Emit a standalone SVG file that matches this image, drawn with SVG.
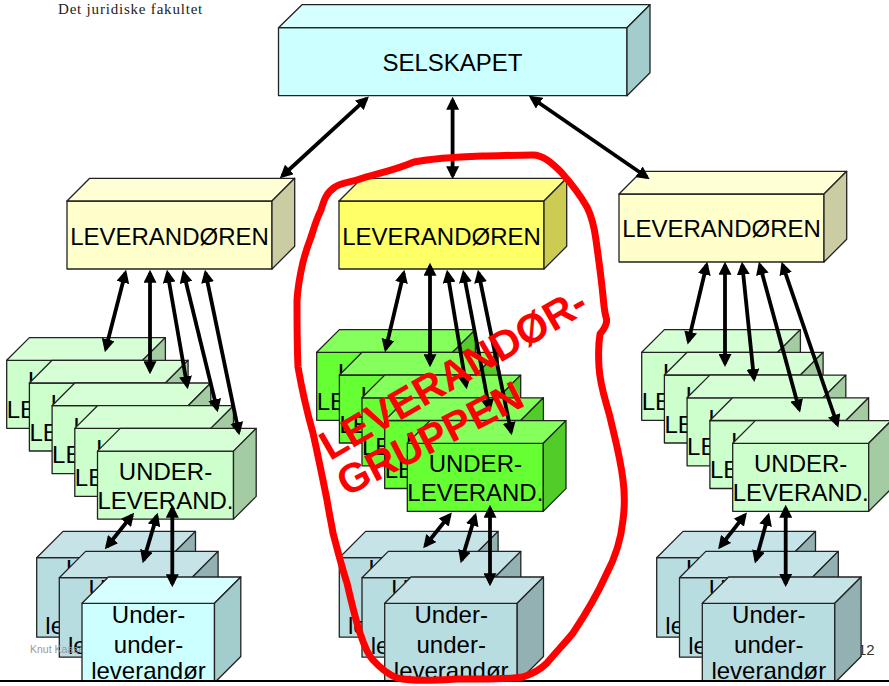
<svg xmlns="http://www.w3.org/2000/svg" width="889" height="686" viewBox="0 0 889 686">
<style>
text{font-family:"Liberation Sans",Arial,sans-serif;font-size:24px;fill:#000;text-anchor:middle}
.f{fill:var(--f)}.t{fill:var(--t)}.s{fill:var(--s)}
.f,.t,.s{stroke:var(--k,#222);stroke-width:1.3;stroke-linejoin:round}
.cy{--f:#ccffff;--t:#d6ffff;--s:#a3cccc}
.ly{--f:#ffffcc;--t:#ffffd6;--s:#cccca3}
.my{--f:#ffff66;--t:#ffff85;--s:#cccc52}
.lg{--f:#ccffcc;--t:#d6ffd6;--s:#a3cca3}
.mg{--f:#66ff33;--t:#85ff5c;--s:#52cc29}
.te{--f:#b8dde0;--t:#c6e3e7;--s:#93b1b3}
#links line{stroke:#000;stroke-width:3.800;marker-start:url(#a);marker-end:url(#a)}
.red{font-weight:bold;font-size:41px;text-anchor:start;fill:#ff0000}
</style>
<defs>
<marker id="a" viewBox="0 0 12 12" refX="9" refY="6" markerWidth="13" markerHeight="13" markerUnits="userSpaceOnUse" orient="auto-start-reverse"><path d="M0,0L12,6L0,12z" fill="#000"/></marker>
<g id="sb"><rect class="f" width="348.5" height="68"/><polygon class="t" points="0,0 23.5,-23 371.500,-23 348.5,0"/><polygon class="s" points="348.5,0 371.500,-23 371.500,45 348.500,68"/></g>
<g id="lb"><rect class="f" width="205" height="68"/><polygon class="t" points="0,0 22.7,-22.700 227.700,-22.700 205,0"/><polygon class="s" points="205,0 227.700,-22.700 227.700,45.300 205,68"/></g>
<g id="ub"><rect class="f" width="136" height="68"/><polygon class="t" points="0,0 22.700,-22.700 158.700,-22.700 136,0"/><polygon class="s" points="136,0 158.700,-22.700 158.700,45.300 136,68"/></g>
<g id="tb"><rect class="f" width="132.500" height="79.500"/><polygon class="t" points="0,0 26.300,-26.300 158.800,-26.300 132.500,0"/><polygon class="s" points="132.500,0 158.800,-26.300 158.800,53.200 132.500,79.500"/></g>
</defs>
<rect width="889" height="686" fill="#fff"/>
<text x="58" y="13.500" style="font-family:'Liberation Serif',serif;font-size:15px;letter-spacing:.8px;text-anchor:start;fill:#222">Det juridiske fakultet</text>
<text x="858" y="655" style="font-size:15px;text-anchor:start;fill:#333">12</text>

<g id="selskapet" class="cy" transform="translate(278.500,27.700)"><use href="#sb"/><text x="174" y="43">SELSKAPET</text></g>
<g id="lev-left" class="ly" transform="translate(67,201)"><use href="#lb"/><text x="102.500" y="44">LEVERANDØREN</text></g>
<g id="lev-mid" class="my" transform="translate(339,201)"><use href="#lb"/><text x="102.500" y="44">LEVERANDØREN</text></g>
<g id="lev-right" class="ly" transform="translate(619,194)"><use href="#lb"/><text x="102.500" y="43">LEVERANDØREN</text></g>

<g id="ul1" class="lg" transform="translate(6.700,360.300)"><use href="#ub"/><text x="68" y="29">UNDER-</text><text x="68" y="57.500">LEVERAND.</text></g>
<g id="ul2" class="lg" transform="translate(29.400,383)"><use href="#ub"/><text x="68" y="29">UNDER-</text><text x="68" y="57.500">LEVERAND.</text></g>
<g id="ul3" class="lg" transform="translate(52.100,405.700)"><use href="#ub"/><text x="68" y="29">UNDER-</text><text x="68" y="57.500">LEVERAND.</text></g>
<g id="ul4" class="lg" transform="translate(74.800,428.400)"><use href="#ub"/><text x="68" y="29">UNDER-</text><text x="68" y="57.500">LEVERAND.</text></g>
<g id="ul5" class="lg" transform="translate(97.500,451.100)"><use href="#ub"/><text x="68" y="29">UNDER-</text><text x="68" y="57.500">LEVERAND.</text></g>

<g id="um1" class="mg" transform="translate(316.700,352.300)"><use href="#ub"/><text x="68" y="29">UNDER-</text><text x="68" y="57.500">LEVERAND.</text></g>
<g id="um2" class="mg" transform="translate(339.400,375)"><use href="#ub"/><text x="68" y="29">UNDER-</text><text x="68" y="57.500">LEVERAND.</text></g>
<g id="um3" class="mg" transform="translate(362,397.800)"><use href="#ub"/><text x="68" y="29">UNDER-</text><text x="68" y="57.500">LEVERAND.</text></g>
<g id="um4" class="mg" transform="translate(384.700,420.500)"><use href="#ub"/><text x="68" y="29">UNDER-</text><text x="68" y="57.500">LEVERAND.</text></g>
<g id="um5" class="mg" transform="translate(407.300,443.300)"><use href="#ub"/><text x="68" y="29">UNDER-</text><text x="68" y="57.500">LEVERAND.</text></g>

<g id="ur1" class="lg" transform="translate(641.700,352.300)"><use href="#ub"/><text x="68" y="29">UNDER-</text><text x="68" y="57.500">LEVERAND.</text></g>
<g id="ur2" class="lg" transform="translate(664.400,375)"><use href="#ub"/><text x="68" y="29">UNDER-</text><text x="68" y="57.500">LEVERAND.</text></g>
<g id="ur3" class="lg" transform="translate(687.100,397.800)"><use href="#ub"/><text x="68" y="29">UNDER-</text><text x="68" y="57.500">LEVERAND.</text></g>
<g id="ur4" class="lg" transform="translate(709.900,420.500)"><use href="#ub"/><text x="68" y="29">UNDER-</text><text x="68" y="57.500">LEVERAND.</text></g>
<g id="ur5" class="lg" transform="translate(732.700,443.300)"><use href="#ub"/><text x="68" y="29">UNDER-</text><text x="68" y="57.500">LEVERAND.</text></g>

<g id="tl1" class="te" transform="translate(36.700,557.700)"><use href="#tb"/><text x="66" y="19.500">Under-</text><text x="66" y="49.500">under-</text><text x="66" y="76">leverandør</text></g>
<g id="tl2" class="te" transform="translate(59.300,577.700)"><use href="#tb"/><text x="66" y="19.500">Under-</text><text x="66" y="49.500">under-</text><text x="66" y="76">leverandør</text></g>
<text x="30" y="653" style="font-size:10.500px;text-anchor:start;fill:#999">Knut Kaase</text>
<g id="tl3" class="cy" transform="translate(82,603.300)"><use href="#tb"/><text x="66.500" y="19.500">Under-</text><text x="66.500" y="49.500">under-</text><text x="66.500" y="76">leverandør</text></g>

<g id="tm1" class="te" transform="translate(339.300,557.700)"><use href="#tb"/><text x="66" y="19.500">Under-</text><text x="66" y="49.500">under-</text><text x="66" y="76">leverandør</text></g>
<g id="tm2" class="te" transform="translate(362,577.700)"><use href="#tb"/><text x="66" y="19.500">Under-</text><text x="66" y="49.500">under-</text><text x="66" y="76">leverandør</text></g>
<g id="tm3" class="te" transform="translate(384.700,603.300)"><use href="#tb"/><text x="66.500" y="19.500">Under-</text><text x="66.500" y="49.500">under-</text><text x="66.500" y="76">leverandør</text></g>

<g id="tr1" class="te" transform="translate(656.700,557.700)"><use href="#tb"/><text x="66" y="19.500">Under-</text><text x="66" y="49.500">under-</text><text x="66" y="76">leverandør</text></g>
<g id="tr2" class="te" transform="translate(679.500,577.700)"><use href="#tb"/><text x="66" y="19.500">Under-</text><text x="66" y="49.500">under-</text><text x="66" y="76">leverandør</text></g>
<g id="tr3" class="te" transform="translate(702.300,603.300)"><use href="#tb"/><text x="66.500" y="19.500">Under-</text><text x="66.500" y="49.500">under-</text><text x="66.500" y="76">leverandør</text></g>

<g id="links">
<line x1="366.500" y1="98.700" x2="282.200" y2="176"/>
<line x1="452.600" y1="100" x2="452.600" y2="176"/>
<line x1="531.500" y1="97.700" x2="647" y2="177.300"/>
<line x1="125.300" y1="273" x2="105.700" y2="349"/>
<line x1="150" y1="273" x2="150" y2="371"/>
<line x1="167.500" y1="273" x2="187.200" y2="386"/>
<line x1="183.700" y1="273" x2="217" y2="409"/>
<line x1="205.600" y1="273" x2="238.700" y2="432"/>
<line x1="132.100" y1="515.300" x2="106.900" y2="546.700"/>
<line x1="156.800" y1="515.900" x2="143.600" y2="560.100"/>
<line x1="172.300" y1="508" x2="172.300" y2="584"/>
<line x1="403.700" y1="273" x2="385.700" y2="349"/>
<line x1="430" y1="266" x2="430" y2="364"/>
<line x1="447.500" y1="273" x2="466.200" y2="386"/>
<line x1="463.600" y1="273" x2="489.400" y2="409"/>
<line x1="478.600" y1="273" x2="511.100" y2="432"/>
<line x1="449.800" y1="515" x2="425.200" y2="545.700"/>
<line x1="475.100" y1="515.900" x2="461.600" y2="560.100"/>
<line x1="490" y1="508" x2="490" y2="583"/>
<line x1="706.600" y1="265" x2="688.400" y2="341.400"/>
<line x1="725" y1="265" x2="725" y2="363.700"/>
<line x1="742.300" y1="265" x2="754" y2="378.700"/>
<line x1="759.800" y1="264.900" x2="799.200" y2="409.400"/>
<line x1="782.600" y1="264.800" x2="837.300" y2="424.500"/>
<line x1="744.900" y1="515" x2="720.100" y2="546.600"/>
<line x1="768.200" y1="515.900" x2="755.800" y2="560.400"/>
<line x1="785.700" y1="508" x2="785.700" y2="583.700"/>
</g>

<g id="bottom-rule"><rect y="682" width="889" height="4" fill="#fff"/><rect y="680" width="889" height="2" fill="#000"/></g>

<g id="red-group">
<path d="M533,155 C510,155 500,156 482,156 C455,157 435,158 414,162 C395,170 380,173 363,178 C350,183 342,182 335,187 C326,193 324,200 321,210 C315,222 313,232 310,240 C306,250 305,255 303,262 C300,275 298,285 297,300 C297,325 297,345 298,367 C302,390 307,412 313,433 C319,460 323,480 327,500 C329,512 331,522 333,533 C338,552 342,568 347,583 C351,600 355,618 360,633 C364,645 368,655 373,660 C382,670 390,675 397,678 C415,682 440,680 457,679 C480,679 505,680 523,677 C532,674 540,670 547,663 C556,652 565,643 573,633 C585,615 597,595 606,575 C614,560 621,540 623,520 C625,505 625,495 623,480 C620,455 614,435 610,417 C604,395 600,385 599,367 C598,350 599,340 600,334 C605,328 608,322 606,317 C604,310 604,305 603,296 C601,275 598,255 596,240 C594,225 591,215 587,207 C580,195 570,182 561,172 C552,163 543,155 533,155 Z" fill="none" stroke="#ff0000" stroke-width="7" stroke-linejoin="round"/>
<text class="red" x="330" y="461" transform="rotate(-30 330 461)">LEVERANDØR-</text>
<text class="red" x="346" y="497" transform="rotate(-27 346 497)">GRUPPEN</text>
</g>
</svg>
